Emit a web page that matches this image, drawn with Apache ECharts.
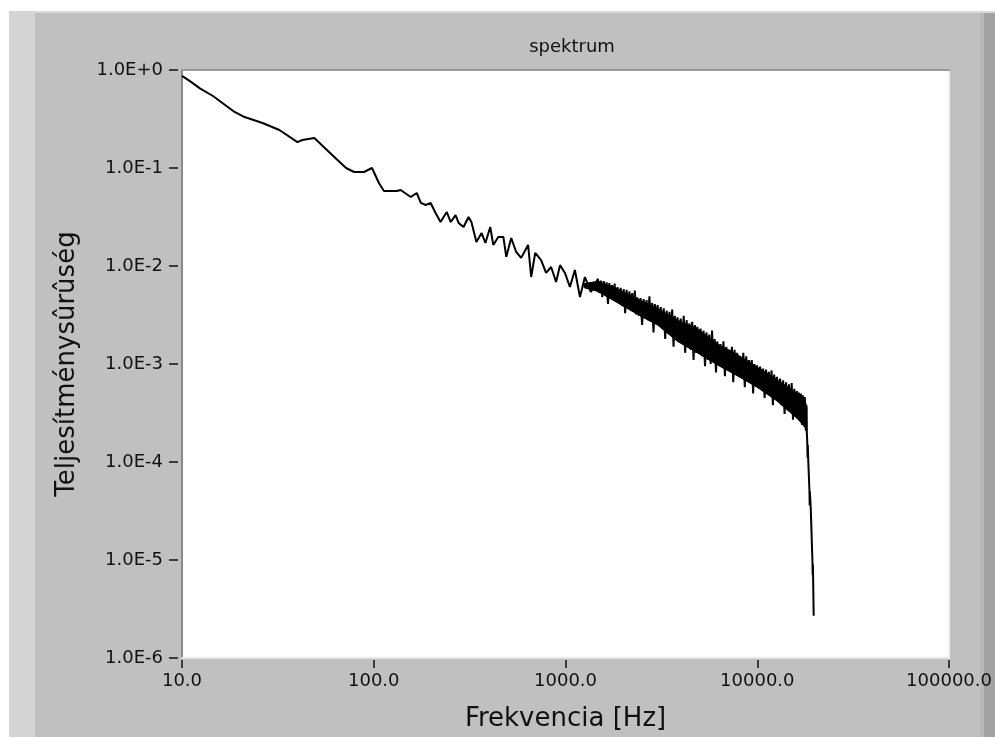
<!DOCTYPE html>
<html>
<head>
<meta charset="utf-8">
<style>html,body{margin:0;padding:0;background:#fff;overflow:hidden;}#c{width:995px;height:737px;}</style>
<script src="https://cdn.jsdelivr.net/npm/echarts@6/dist/echarts.min.js"></script>
</head>
<body>
<div id="c"></div>
<script>
// ---- data ----
const xTickLabels = ['10.0', '100.0', '1000.0', '10000.0', '100000.0'];
const yTickLabels = ['1.0E-6', '1.0E-5', '1.0E-4', '1.0E-3', '1.0E-2', '1.0E-1', '1.0E+0'];

// low-frequency, smooth part of the spectrum
const smoothFreq = [10, 11.0, 12.4, 14.5, 18.8, 21.2, 26.3, 32.2, 40.0, 42.4,
  49.0, 60.7, 71.7, 79.0, 88.9, 97.9, 106.4, 113, 132, 138,
  156, 167.5, 176, 186.6, 198, 210, 223, 240, 252, 267,
  277, 294, 312, 323, 343, 365, 382, 405, 420, 446,
  474, 491, 521, 553, 587, 638, 662, 695, 746, 792,
  841, 893, 936, 993, 1054, 1119, 1189, 1262, 1355, 1439];
const smoothPsd = [0.87, 0.77, 0.65, 0.543, 0.373, 0.331, 0.288, 0.244, 0.184, 0.193,
  0.202, 0.136, 0.100, 0.091, 0.091, 0.100, 0.0703, 0.0582, 0.0582, 0.0597,
  0.0506, 0.0556, 0.044, 0.0419, 0.044, 0.0347, 0.0281, 0.0356, 0.0281, 0.0331,
  0.0275, 0.025, 0.0316, 0.0281, 0.0176, 0.0217, 0.0172, 0.025, 0.0164, 0.0198,
  0.0198, 0.0124, 0.0193, 0.0139, 0.0121, 0.0164, 0.00772, 0.0136, 0.0115, 0.0085,
  0.00977, 0.00687, 0.0102, 0.0085, 0.0061, 0.0091, 0.00483, 0.00772, 0.00543, 0.00671];

// dense, noisy part of the spectrum (trace)
const bandFreq = [
  1475, 1500, 1528, 1555, 1582, 1610, 1638, 1665, 1692, 1720, 1748, 1776, 1803, 1830,
  1866, 1902, 1938, 1974, 2010, 2046, 2082, 2118, 2154, 2190, 2226, 2262, 2298, 2334,
  2370, 2416, 2462, 2508, 2554, 2600, 2646, 2692, 2738, 2784, 2830, 2876, 2922, 2968,
  3020, 3078, 3136, 3194, 3252, 3310, 3368, 3426, 3484, 3542, 3600, 3658, 3716, 3774,
  3837, 3911, 3985, 4059, 4133, 4207, 4281, 4355, 4429, 4503, 4577, 4651, 4725, 4799,
  4868, 4962, 5056, 5150, 5244, 5338, 5432, 5526, 5620, 5714, 5808, 5902, 5996, 6090,
  6183, 6302, 6421, 6540, 6659, 6778, 6897, 7016, 7135, 7254, 7373, 7492, 7611, 7730,
  7852, 8003, 8154, 8305, 8456, 8607, 8758, 8909, 9060, 9211, 9362, 9513, 9664, 9815,
  9970, 10160, 10350, 10540, 10730, 10920, 11110, 11300, 11490, 11680, 11870, 12060, 12250, 12440,
  12660, 12900, 13150, 13390, 13640, 13880, 14130, 14370, 14620, 14860, 15110, 15350, 15600, 15840,
  16080, 16280, 16480, 16680, 16880, 17080, 17280, 17480, 17690, 17900, 18050, 18120];
const bandPsd = [
  0.0074, 0.0053, 0.0071, 0.0048, 0.0070, 0.0051, 0.0068, 0.0041, 0.0067, 0.0047, 0.0064, 0.0045, 0.0066, 0.0043,
  0.0061, 0.0041, 0.0060, 0.0039, 0.0058, 0.0033, 0.0057, 0.0038, 0.0055, 0.0036, 0.0053, 0.0034, 0.0056, 0.0032,
  0.0048, 0.0031, 0.0047, 0.0025, 0.0046, 0.0030, 0.0045, 0.0028, 0.0049, 0.0027, 0.0042, 0.0021, 0.0041, 0.0026,
  0.0040, 0.0025, 0.0038, 0.0023, 0.0037, 0.0018, 0.0035, 0.0022, 0.0034, 0.0020, 0.0036, 0.0015, 0.0031, 0.0018,
  0.0030, 0.0017, 0.0029, 0.0016, 0.0031, 0.0013, 0.0028, 0.0015, 0.0026, 0.0014, 0.0027, 0.0011, 0.0025, 0.0013,
  0.0024, 0.0013, 0.0023, 0.0012, 0.0022, 0.00095, 0.0021, 0.0011, 0.0020, 0.0010, 0.0022, 0.00105, 0.0018, 0.00082,
  0.0017, 0.00097, 0.0016, 0.00093, 0.0017, 0.00075, 0.0015, 0.00088, 0.0014, 0.00084, 0.0015, 0.00065, 0.0014, 0.00078,
  0.0013, 0.00075, 0.0012, 0.00072, 0.0013, 0.00058, 0.0012, 0.00068, 0.0011, 0.00065, 0.0011, 0.00050, 0.0010, 0.00060,
  0.00097, 0.00058, 0.00094, 0.00055, 0.00090, 0.00045, 0.00088, 0.00050, 0.00083, 0.00048, 0.00086, 0.00038, 0.00078, 0.00044,
  0.00074, 0.00041, 0.00071, 0.00038, 0.00068, 0.00031, 0.00065, 0.00036, 0.00062, 0.00034, 0.00064, 0.00027, 0.00056, 0.00031,
  0.00053, 0.00029, 0.00051, 0.00027, 0.00050, 0.00024, 0.00048, 0.00023, 0.00046, 0.00021, 0.00038, 0.00020];

// solid core of the noisy band (upper / lower edge of the black area)
const coreFreq  = [1250, 1475, 1873, 2377, 3020, 3837, 4868, 6183, 7852, 9970, 12660, 16080, 17690, 18120];
const coreUpper = [0.0066, 0.0070, 0.0058, 0.0046, 0.0037, 0.0028, 0.0023, 0.0016, 0.00125, 0.00093, 0.00070, 0.00050, 0.00044, 0.00036];
const coreLower = [0.0060, 0.0055, 0.0042, 0.0032, 0.0025, 0.0017, 0.0013, 0.00098, 0.00076, 0.00058, 0.00042, 0.00028, 0.00023, 0.00020];

// anti-alias roll-off
const rolloffFreq = [18200, 18300, 18340, 18450, 18700, 18760, 18800, 19000, 19400, 19450, 19500, 19680];
const rolloffPsd = [1.7e-4, 1.1e-4, 1.5e-4, 1.0e-4, 5.2e-5, 3.6e-5, 5.0e-5, 3.4e-5, 9.3e-6, 7.0e-6, 9.0e-6, 2.7e-6];

// ---- build ----
function zip(a, b) { return a.map((v, i) => [v, b[i]]); }
const lineData = zip(smoothFreq, smoothPsd).concat(zip(bandFreq, bandPsd), zip(rolloffFreq, rolloffPsd));
const coreTop = zip(coreFreq, coreUpper);
const coreBottom = zip(coreFreq, coreLower);

const FONT = 'DejaVu Sans';
const chart = echarts.init(document.getElementById('c'), null, { renderer: 'canvas', width: 995, height: 737 });
const xLab = v => xTickLabels[Math.round(Math.log10(v)) - 1];
const yLab = v => yTickLabels[Math.round(Math.log10(v)) + 6];

chart.setOption({
  animation: false,
  backgroundColor: '#c0c0c0',
  textStyle: { fontFamily: FONT },
  graphic: [
    { type: 'rect', shape: { x: 0, y: 0, width: 995, height: 11 }, style: { fill: '#ffffff' }, silent: true },
    { type: 'rect', shape: { x: 0, y: 0, width: 9, height: 737 }, style: { fill: '#ffffff' }, silent: true },
    { type: 'rect', shape: { x: 9, y: 11, width: 986, height: 2 }, style: { fill: '#d8d8d8' }, silent: true },
    { type: 'rect', shape: { x: 9, y: 11, width: 26, height: 726 }, style: { fill: '#d4d4d4' }, silent: true },
    { type: 'rect', shape: { x: 980, y: 13, width: 4, height: 724 }, style: { fill: '#b8b8b8' }, silent: true },
    { type: 'rect', shape: { x: 984, y: 13, width: 11, height: 724 }, style: { fill: '#a2a2a2' }, silent: true }
  ],
  title: {
    text: 'spektrum',
    left: 567, top: 33, textAlign: 'center',
    textStyle: { fontFamily: FONT, fontSize: 18, fontWeight: 'normal', color: '#111' }
  },
  grid: { left: 182, top: 70, right: 42, bottom: 79, show: true, backgroundColor: '#ffffff', borderWidth: 0 },
  xAxis: [
    {
      type: 'log', logBase: 10, min: 10, max: 100000, splitNumber: 4, offset: 2,
      name: 'Frekvencia [Hz]', nameLocation: 'middle', nameGap: 46,
      nameTextStyle: { fontFamily: FONT, fontSize: 26, color: '#111' },
      axisLine: { show: false },
      axisTick: { show: true, length: 8, lineStyle: { color: '#111', width: 1.5 } },
      axisLabel: { formatter: xLab, margin: 12, fontFamily: FONT, fontSize: 18, color: '#111', showMinLabel: true, showMaxLabel: true },
      splitLine: { show: false }, minorTick: { show: false }
    },
    {
      type: 'log', logBase: 10, min: 10, max: 100000, position: 'bottom',
      axisLine: { show: true, onZero: false, lineStyle: { color: '#e6e6e6', width: 2 } },
      axisTick: { show: false }, axisLabel: { show: false }, splitLine: { show: false }
    },
    {
      type: 'log', logBase: 10, min: 10, max: 100000, position: 'top',
      axisLine: { show: true, onZero: false, lineStyle: { color: '#9a9a9a', width: 2 } },
      axisTick: { show: false }, axisLabel: { show: false }, splitLine: { show: false }
    }
  ],
  yAxis: [
    {
      type: 'log', logBase: 10, min: 1e-6, max: 1, splitNumber: 6, offset: 4,
      name: 'Teljesítménysûrûség', nameLocation: 'middle', nameGap: 98,
      nameTextStyle: { fontFamily: FONT, fontSize: 26, color: '#111' },
      axisLine: { show: false },
      axisTick: { show: true, length: 9, lineStyle: { color: '#111', width: 1.5 } },
      axisLabel: { formatter: yLab, margin: 15, fontFamily: FONT, fontSize: 18, color: '#111', showMinLabel: true, showMaxLabel: true },
      splitLine: { show: false }, minorTick: { show: false }
    },
    {
      type: 'log', logBase: 10, min: 1e-6, max: 1, position: 'left',
      axisLine: { show: true, onZero: false, lineStyle: { color: '#8a8a8a', width: 2 } },
      axisTick: { show: false }, axisLabel: { show: false }, splitLine: { show: false }
    },
    {
      type: 'log', logBase: 10, min: 1e-6, max: 1, position: 'right',
      axisLine: { show: true, onZero: false, lineStyle: { color: '#f0f0f0', width: 2 } },
      axisTick: { show: false }, axisLabel: { show: false }, splitLine: { show: false }
    }
  ],
  series: [
    {
      type: 'custom',
      xAxisIndex: 0, yAxisIndex: 0,
      data: [coreTop[0]],
      silent: true,
      renderItem: function (params, api) {
        const top = coreTop.map(p => api.coord(p));
        const bottom = coreBottom.map(p => api.coord(p)).reverse();
        return {
          type: 'polygon',
          shape: { points: top.concat(bottom) },
          style: { fill: '#000000', stroke: '#000000', lineWidth: 1 }
        };
      },
      z: 2
    },
    {
      type: 'line',
      xAxisIndex: 0, yAxisIndex: 0,
      data: lineData,
      showSymbol: false, symbol: 'none',
      lineStyle: { color: '#000000', width: 2 },
      silent: true,
      z: 3
    }
  ]
});
</script>
</body>
</html>
